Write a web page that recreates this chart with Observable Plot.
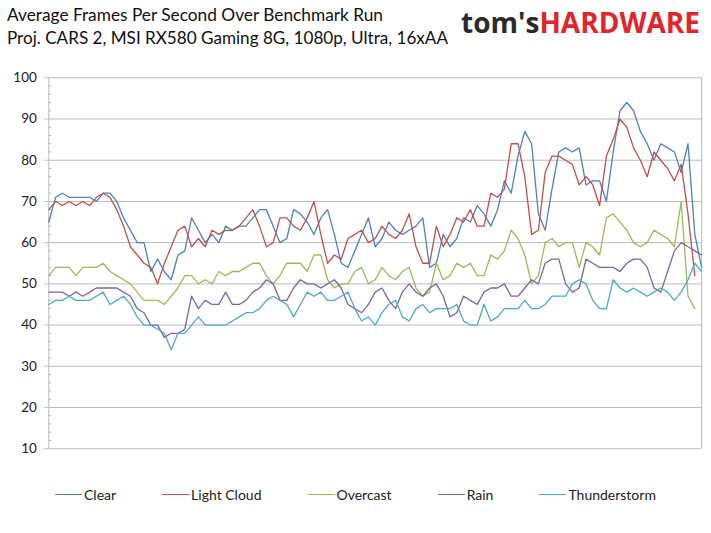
<!DOCTYPE html>
<html>
<head>
<meta charset="utf-8">
<script src="https://cdn.jsdelivr.net/npm/d3@7"></script>
<script src="https://cdn.jsdelivr.net/npm/@observablehq/plot@0.6"></script>
<style>
  html, body { margin: 0; padding: 0; background: #fff; }
  #wrap { position: relative; width: 711px; height: 533px; overflow: hidden; font-family: Lato, "Open Sans", sans-serif; }
  #header { position: absolute; left: 0; top: 0; }
  #chart { position: absolute; left: 0; top: 60px; }
  #legend { position: absolute; left: 55px; top: 486px; display: flex; gap: 46px; align-items: center; font-size: 14px; color: #222; }
  .item { display: flex; align-items: center; }
  .sw { width: 27px; height: 0; border-top: 1.4px solid; margin-right: 2px; }
</style>
</head>
<body>
<div id="wrap">
  <svg id="header" width="711" height="60"></svg>
  <div id="chart"></div>
  <div id="legend"></div>
</div>
<script>
const titleText = "Average Frames Per Second Over Benchmark Run";
const subtitleText = "Proj. CARS 2, MSI RX580 Gaming 8G, 1080p, Ultra, 16xAA";
const logoParts = ["tom's", "HARDWARE"];

const seriesNames = ["Clear", "Light Cloud", "Overcast", "Rain", "Thunderstorm"];
const seriesColors = ["#4f81bd", "#c0504d", "#9bbb59", "#8064a2", "#4bacc6"];

const clear = [65,71,72,71,71,71,71,70,72,72,70,66,63,60,60,53,56,53,51,57,58,66,63,60,62,60,64,63,64,64,66,68,68,64,60,61,68,67,65,62,66,68,62,55,54,58,62,66,59,61,65,63,62,63,64,66,54,55,62,59,61,66,65,69,67,64,68,75,72,81,87,84,67,63,73,82,83,82,83,74,75,75,70,82,92,94,92,87,84,80,84,83,82,77,84,62,54];
const lightCloud = [68,70,69,70,69,70,69,71,72,71,68,64,59,57,55,54,50,55,59,63,64,59,61,59,63,62,63,63,64,66,68,64,59,60,66,66,64,63,66,70,62,55,57,56,61,62,63,60,61,64,62,61,63,67,59,55,55,64,59,62,66,65,68,64,64,72,71,73,84,84,76,62,63,77,81,81,80,79,74,76,74,69,81,85,90,88,83,80,76,82,80,78,75,79,67,52];
const overcast = [52,54,54,54,52,54,54,54,55,53,52,51,50,48,46,46,46,45,47,49,52,52,50,51,50,53,52,53,53,54,55,55,52,50,52,55,55,55,53,57,57,51,49,50,50,53,54,50,51,54,52,51,53,54,49,47,48,55,51,52,55,54,55,52,52,57,56,58,63,61,57,50,52,60,61,59,60,60,54,60,59,57,66,67,65,63,60,59,60,63,62,61,59,70,47,44];
const rain = [48,48,48,47,48,47,48,49,49,49,49,48,47,44,43,40,40,37,38,38,39,47,44,46,45,45,48,45,45,46,48,49,51,50,46,46,49,51,50,50,49,50,51,49,45,44,43,45,48,49,46,44,48,50,48,47,49,50,47,42,43,47,46,45,48,49,49,50,47,47,49,51,50,55,56,56,50,48,49,56,55,54,54,54,53,55,56,56,54,49,48,53,58,60,59,58,57];
const thunderstorm = [45,46,46,47,46,46,46,47,48,45,46,47,45,42,40,40,39,38,34,38,38,40,42,40,40,40,40,41,42,43,43,44,46,47,46,45,42,45,48,47,48,46,46,47,48,44,41,42,40,43,45,46,42,41,44,45,43,44,44,44,45,41,40,40,45,41,42,44,44,44,46,44,44,45,47,47,47,50,51,50,46,44,44,51,49,48,49,48,47,48,49,48,46,48,51,55,53];

const yTicks = [10,20,30,40,50,60,70,80,90,100];
const yMinorTicks = [12,14,16,18,22,24,26,28,32,34,36,38,42,44,46,48,52,54,56,58,62,64,66,68,72,74,76,78,82,84,86,88,92,94,96,98];

const seriesValues = [clear, lightCloud, overcast, rain, thunderstorm];
const rows = seriesNames.flatMap((name, k) =>
  seriesValues[k].map((v, i) => ({sample: i, fps: v, series: name})));
const lastSample = d3.max(seriesValues, s => s.length - 1);

const grid = "#bcbcbc";
const W = 711, H = 420;
const mL = 48.3, mR = 9.9, mT = 17.3, mB = 31.8;

const chart = Plot.plot({
  width: W, height: H,
  marginTop: mT, marginBottom: mB, marginLeft: mL, marginRight: mR,
  style: {fontFamily: "Lato, 'Open Sans', sans-serif", fontSize: "13px", color: "#222", background: "#fff"},
  x: {domain: [0, lastSample], axis: null},
  y: {domain: [d3.min(yTicks), d3.max(yTicks)], axis: null},
  color: {domain: seriesNames, range: seriesColors},
  marks: [
    Plot.gridY(yTicks, {stroke: grid, strokeOpacity: 1, strokeWidth: 1}),
    Plot.ruleX([lastSample], {stroke: grid, strokeWidth: 1}),
    Plot.ruleY(yMinorTicks, {stroke: grid, strokeWidth: 1, insetRight: W - mL - mR - 3}),
    Plot.axisY(yTicks, {anchor: "left", label: null, tickSize: 4, tickPadding: 8, stroke: grid, fill: "#222", fontSize: 13.5}),
    Plot.ruleX([0], {stroke: grid, strokeWidth: 1}),
    Plot.line(rows, {x: "sample", y: "fps", z: "series", stroke: "series", strokeWidth: 1.3, strokeLinejoin: "round", curve: "linear"})
  ]
});
document.getElementById("chart").appendChild(chart);

// header
const hdr = d3.select("#header");
hdr.append("text").attr("x", 7).attr("y", 21).attr("textLength", 376).attr("lengthAdjust", "spacingAndGlyphs")
  .attr("font-family", "Lato, 'Open Sans', sans-serif").attr("font-size", 17.5).attr("fill", "#111").text(titleText);
hdr.append("text").attr("x", 7).attr("y", 44).attr("textLength", 441).attr("lengthAdjust", "spacingAndGlyphs")
  .attr("font-family", "Lato, 'Open Sans', sans-serif").attr("font-size", 17.5).attr("fill", "#111").text(subtitleText);
const logo = hdr.append("text").attr("x", 461).attr("y", 33).attr("textLength", 239).attr("lengthAdjust", "spacingAndGlyphs")
  .attr("font-family", "'Open Sans', Lato, sans-serif").attr("font-weight", 700).attr("font-size", 28);
logo.append("tspan").attr("fill", "#2b2a29").text(logoParts[0]);
logo.append("tspan").attr("fill", "#e2242b").text(logoParts[1]);

// legend
const legend = d3.select("#legend");
seriesNames.forEach((name, k) => {
  const it = legend.append("div").attr("class", "item");
  it.append("div").attr("class", "sw").style("border-top-color", seriesColors[k]);
  it.append("span").text(name);
});
</script>
</body>
</html>
